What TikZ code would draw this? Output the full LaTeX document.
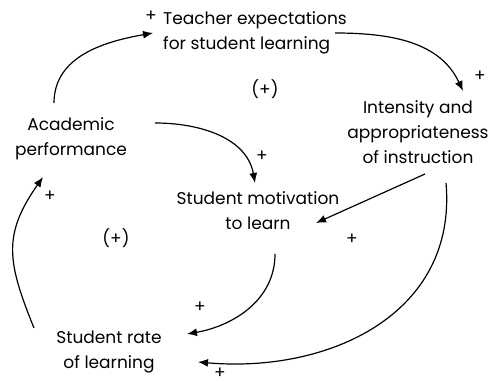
\documentclass[tikz,border=0pt]{standalone}
\usepackage{fontspec}
\setmainfont{Poppins}
\usetikzlibrary{arrows.meta}
\tikzset{
	var/.style={
		inner sep=0pt,
		align=center,
		font=\fontsize{17}{25}\selectfont
	},
	sign/.style={
		inner sep=0pt,
		font=\fontsize{17}{18}\selectfont
	},
	link/.style={
		line width=1.2pt,
		-{Latex[length=10pt,width=8pt]}
	}
}

\begin{document}
\begin{tikzpicture}[x=1pt,y=1pt]
		\useasboundingbox (0,0) rectangle (493,-383);
		% variables
		\node[var, align=left, anchor=west] (teach) at (163,-33) {Teacher expectations\\for student learning};
		\node[var] (intens) at (418,-132) {Intensity and\\appropriateness\\of instruction};
		\node[var] (acad) at (71,-139) {Academic\\performance};
		\node[var] (motiv) at (258,-211) {Student motivation\\to learn};
		\node[var] (rate) at (109,-352) {Student rate\\of learning};
		
		% polarities
		\node[sign] (p1) at (151,-16) {+};
		\node[sign] (p2) at (480,-76) {+};
		\node[sign] (p3) at (262,-156) {+};
		\node[sign] (p4) at (50,-196) {+};
		\node[sign] (p5) at (352,-239) {+};
		\node[sign] (p6) at (200,-307) {+};
		\node[sign] (p7) at (220,-373) {+};
		\node[sign] (loopa) at (265,-89) {(+)};
		\node[sign] (loopb) at (116,-238) {(+)};
		
		% links
		\draw[link] ([shift={(-17,36)}]acad.center) to[out=90,in=190] ([xshift=-10pt]teach.west);
		\draw[link] ([xshift=172pt]teach.west) to[out=0,in=115] ([shift={(45,41)}]intens.center);
		\draw[link] ([shift={(84,16)}]acad.center) to[out=0,in=100] ([shift={(-3,28)}]motiv.center);
		\draw[link] ([shift={(7,-42)}]intens.center) -- ([shift={(58,-12)}]motiv.center);
		\draw[link] ([shift={(28,-51)}]intens.center) to[out=-85,in=-5,looseness=1.1] ([shift={(89,-10)}]rate.center);
		\draw[link] ([shift={(17,-43)}]motiv.center) to[out=-90,in=10] ([shift={(78,18)}]rate.center);
		\draw[link] ([shift={(-75,24)}]rate.center) to[out=112,in=-125,looseness=1.2] ([shift={(-28,-38)}]acad.center);
\end{tikzpicture}
\end{document}
